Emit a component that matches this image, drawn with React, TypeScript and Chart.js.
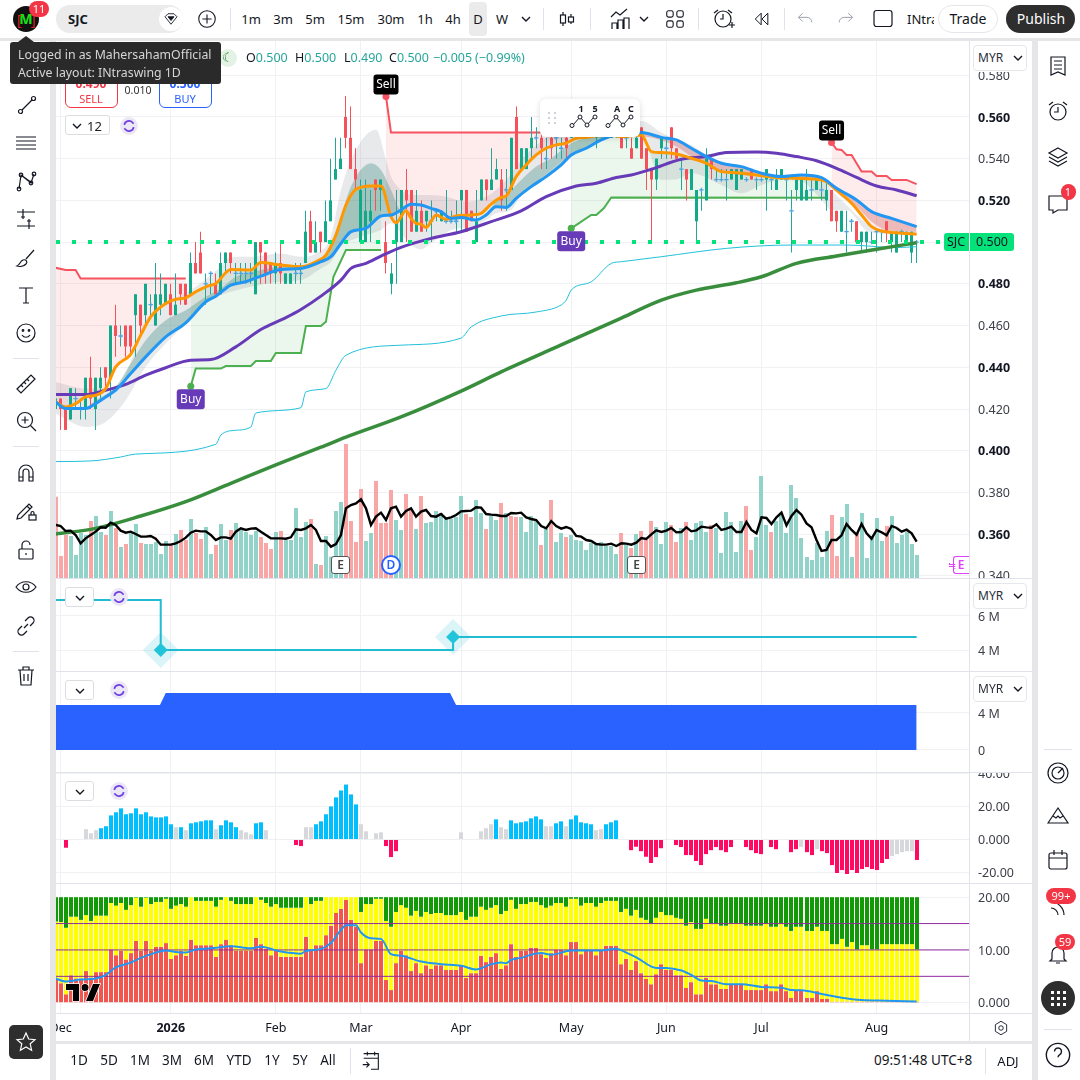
import React, { useEffect, useRef } from "react";
import { Chart, registerables } from "chart.js";

Chart.register(...registerables);

const FONT = '"Noto Sans", "Open Sans", sans-serif';

// ---- candles (price, one entry per session) ----
const candleOpen = [.42,.425,.42,.415,.425,.42,.42,.435,.42,.43,.44,.435,.46,.455,.46,.46,.465,.47,.465,.47,.46,.47,.47,.475,.465,.48,.48,.475,.49,.495,.48,.485,.48,.475,.49,.495,.485,.485,.485,.485,.475,.5,.495,.49,.485,.49,.48,.48,.485,.485,.49,.51,.495,.505,.5,.51,.53,.535,.56,.55,.535,.5,.5,.51,.53,.525,.5,.48,.5,.5,.525,.525,.505,.515,.51,.51,.515,.51,.51,.51,.51,.52,.525,.515,.5,.52,.53,.525,.53,.53,.525,.525,.56,.535,.535,.545,.55,.55,.54,.55,.55,.545,.55,.55,.555,.55,.555,.555,.55,.555,.555,.55,.555,.555,.55,.545,.545,.555,.545,.535,.53,.545,.545,.555,.545,.535,.535,.525,.51,.525,.52,.54,.53,.53,.53,.53,.525,.53,.53,.535,.53,.53,.53,.53,.525,.53,.53,.515,.525,.52,.52,.525,.525,.525,.52,.525,.515,.505,.505,.51,.51,.5,.5,.5,.505,.505,.51,.5,.495,.505,.5,.495,.5];
const candleHigh = [.43,.425,.42,.43,.43,.425,.435,.445,.435,.44,.44,.46,.47,.46,.46,.46,.475,.47,.48,.475,.49,.485,.48,.48,.485,.48,.48,.495,.5,.505,.485,.485,.485,.495,.495,.495,.49,.49,.49,.49,.5,.5,.495,.49,.495,.5,.485,.485,.49,.49,.515,.515,.51,.505,.52,.54,.55,.55,.57,.565,.545,.53,.53,.525,.53,.53,.51,.49,.525,.525,.535,.525,.525,.52,.515,.52,.515,.515,.525,.515,.52,.525,.525,.515,.525,.53,.53,.545,.54,.535,.535,.55,.565,.545,.545,.56,.555,.555,.55,.555,.555,.55,.555,.56,.56,.56,.56,.56,.56,.56,.56,.56,.56,.56,.555,.55,.555,.555,.545,.535,.54,.55,.55,.555,.545,.54,.535,.535,.525,.525,.545,.54,.535,.535,.535,.535,.535,.535,.53,.535,.53,.53,.535,.53,.535,.535,.53,.525,.53,.53,.535,.53,.53,.53,.53,.525,.515,.515,.515,.51,.51,.505,.505,.505,.505,.505,.51,.505,.505,.505,.505,.505,.5];
const candleLow = [.415,.41,.41,.415,.42,.415,.415,.42,.41,.425,.43,.425,.445,.45,.445,.445,.445,.455,.46,.465,.46,.465,.47,.465,.465,.47,.47,.475,.485,.485,.47,.475,.475,.475,.485,.485,.48,.48,.48,.48,.475,.48,.48,.48,.48,.48,.48,.48,.48,.48,.49,.495,.495,.495,.5,.51,.53,.535,.545,.535,.525,.5,.5,.5,.515,.515,.485,.475,.48,.5,.5,.505,.505,.505,.505,.5,.51,.51,.51,.51,.505,.505,.505,.51,.5,.52,.52,.525,.53,.515,.515,.525,.535,.535,.535,.54,.545,.535,.535,.54,.54,.54,.54,.55,.55,.55,.55,.55,.545,.55,.55,.55,.55,.545,.545,.54,.545,.54,.525,.5,.525,.54,.54,.54,.54,.525,.52,.525,.5,.515,.52,.53,.53,.53,.52,.53,.525,.53,.53,.53,.525,.53,.515,.525,.525,.53,.52,.495,.52,.52,.52,.52,.525,.52,.515,.51,.505,.505,.495,.505,.5,.495,.495,.5,.495,.5,.5,.495,.495,.5,.5,.49,.49];
const candleClose = [.425,.42,.41,.43,.425,.42,.435,.425,.435,.435,.435,.46,.455,.455,.45,.45,.475,.46,.48,.47,.475,.475,.48,.465,.47,.475,.47,.49,.485,.485,.48,.485,.475,.49,.495,.49,.485,.485,.485,.485,.5,.495,.485,.485,.49,.485,.485,.485,.485,.485,.505,.495,.5,.5,.51,.52,.535,.54,.55,.535,.53,.525,.515,.515,.525,.53,.49,.485,.51,.525,.52,.505,.515,.505,.515,.51,.515,.515,.51,.51,.51,.525,.505,.51,.51,.53,.525,.53,.535,.52,.525,.55,.535,.545,.545,.55,.55,.545,.54,.545,.55,.545,.545,.555,.555,.555,.55,.555,.555,.555,.55,.555,.555,.545,.55,.54,.55,.54,.535,.53,.54,.55,.545,.545,.54,.535,.53,.535,.525,.525,.54,.535,.53,.53,.53,.535,.535,.535,.53,.53,.53,.53,.535,.53,.53,.535,.53,.515,.53,.53,.525,.525,.53,.525,.525,.51,.51,.515,.505,.51,.5,.505,.505,.5,.505,.505,.505,.505,.505,.505,.505,.505,.5];

// ---- volume + its smoothed overlay (lots) ----
const volumeLots = [244,66,129,126,69,135,129,171,186,138,129,201,150,93,102,138,162,105,102,102,108,72,111,99,132,144,114,177,135,117,153,72,99,162,114,144,165,144,138,129,141,123,105,87,138,141,114,114,210,123,168,177,42,39,126,64,201,228,402,171,108,267,111,135,291,165,165,264,174,144,252,204,147,246,165,168,201,195,180,177,183,246,192,183,234,195,147,186,174,225,195,186,183,183,138,186,174,99,147,234,108,135,123,129,114,111,84,105,102,108,96,96,72,135,99,90,132,141,114,171,153,102,168,159,108,150,168,114,165,171,138,159,150,75,198,168,78,171,216,84,123,306,159,138,171,192,135,279,240,120,63,54,105,63,141,189,66,183,222,63,135,195,60,126,180,111,156,186,105,129,138,102,69];
const volumeDownBars = [0,1,2,7,10,12,14,17,23,25,26,28,29,32,35,41,42,43,45,51,53,58,59,60,61,64,65,66,67,70,71,73,82,83,86,89,91,92,97,99,102,113,115,117,118,119,123,124,126,131,138,139,143,155,156,160,166];
const overlayLine = [159,156,141,142,129,104,119,129,139,152,151,166,159,142,136,139,132,124,124,126,118,100,100,100,104,111,121,136,142,140,140,129,114,122,122,118,139,149,144,148,149,139,129,119,119,119,118,122,146,144,149,159,144,111,111,94,102,129,209,219,224,236,209,159,184,196,174,209,214,184,201,209,184,199,204,186,184,192,178,182,189,200,201,202,212,211,192,190,189,186,186,195,194,196,182,177,174,156,149,171,156,148,153,147,126,124,114,111,102,100,100,103,96,104,103,100,106,120,117,131,143,138,142,150,137,138,152,140,143,154,152,151,161,144,148,154,138,138,168,144,134,182,180,162,182,196,158,186,204,190,164,152,114,81,84,114,114,128,162,144,130,162,134,118,144,137,128,156,150,139,145,134,109];

// ---- moving averages: sampled sessions and prices ----
const orangeBars = [0,2,4,6,8,10,12,15,17,19,22,24,26,28,30,32,35,39,41,45,49,52,54,56,58,60,63,65,67,68,70,71,72,73,74,75,76,78,80,83,85,87,89,90,92,94,96,98,100,102,104,106,110,113,117,119,121,124,127,130,133,136,140,144,148,152,154,156,159,161,163,165,168,172];
const orangePrice = [.4234,.421,.4226,.4258,.4266,.4298,.4402,.4462,.4554,.4642,.4706,.4726,.4733,.4762,.4786,.4802,.4869,.4866,.4902,.489,.4882,.4906,.4938,.5034,.5178,.5253,.5269,.5269,.5122,.5093,.515,.5114,.509,.5086,.507,.5098,.513,.5109,.5125,.513,.5138,.5182,.5214,.5221,.5314,.537,.5418,.545,.5466,.5474,.5498,.5502,.5515,.5506,.5514,.5434,.5429,.5422,.5402,.5378,.5338,.5333,.5322,.531,.5306,.5301,.529,.525,.5186,.513,.5074,.5053,.5045,.5038];
const blueBars = [0,2,6,8,10,12,15,18,22,26,30,32,35,38,41,45,49,53,55,57,59,62,65,67,69,71,73,75,77,79,81,84,86,88,90,92,95,98,101,103,106,109,112,117,121,124,127,130,133,137,141,145,149,153,156,160,163,167,172];
const bluePrice = [.4234,.4202,.4202,.4226,.4258,.429,.437,.445,.4546,.4613,.4714,.4741,.4794,.481,.4837,.4869,.4874,.4906,.493,.4994,.505,.5066,.5125,.513,.5154,.5182,.5178,.5162,.5146,.5114,.5118,.5106,.513,.517,.5166,.521,.5266,.5314,.537,.5418,.545,.549,.5514,.5525,.5502,.549,.545,.541,.5378,.5362,.533,.5314,.5322,.5309,.5258,.5202,.5146,.5114,.5074];
const purpleBars = [0,6,10,14,18,22,27,31,36,41,46,49,53,57,59,62,65,69,75,81,87,93,98,104,108,112,115,119,125,130,134,140,144,148,152,156,160,164,168,172];
const purplePrice = [.4269,.4269,.429,.4318,.4362,.4398,.4434,.4437,.4498,.4581,.4638,.4677,.4741,.4818,.4874,.4898,.4933,.4975,.5018,.505,.5098,.515,.5218,.5269,.5282,.531,.5322,.5349,.5397,.541,.5429,.5432,.5426,.541,.539,.5354,.531,.5269,.525,.5222];
const longMaBars = [0,8,17,26,35,44,53,58,69,81,89,101,113,121,128,136,141,148,156,164,172];
const longMaPrice = [.3601,.3628,.3687,.3756,.3844,.3932,.4017,.4065,.4162,.4286,.4378,.4507,.4636,.4722,.477,.4805,.4834,.4898,.4933,.4966,.4997];
const channelBars = [0,7,13,16,32,33,36,39,40,49,50,54,56,58,69,81,83,89,96,101,102,103,107,111,113,121,134,147,158,168,172];
const channelPrice = [.3948,.3951,.397,.3984,.4031,.4075,.4098,.4114,.4181,.4206,.4282,.4298,.4386,.4458,.4506,.454,.4593,.4646,.4665,.4699,.4722,.477,.481,.4898,.4906,.493,.497,.4986,.4986,.4974,.4978];

// ---- cloud bands ----
const cloudTopBars = [0,6,11,14,18,22,27,33,35,39,45,49,52,55,57,60,64,66,67,69,71,75,78,82,86,88,90,93,97,101,113,117,121,124,127,130,133,137,141,145,149,153,155,158,162,166,172];
const cloudTopPrice = [.433,.4298,.4298,.437,.4626,.4706,.477,.4882,.493,.493,.4946,.493,.4946,.5026,.525,.5442,.5538,.5394,.5314,.525,.5226,.5226,.5218,.5194,.5218,.525,.5298,.5394,.5482,.5538,.558,.558,.5525,.549,.5466,.5418,.5386,.5362,.533,.5317,.5322,.5306,.525,.5178,.509,.505,.505];
const cloudLowBars = [0,6,10,14,18,22,26,30,33,39,45,49,53,55,57,61,65,67,69,71,73,75,79,83,86,88,91,93,95,99,103,106,109,113,117,121,124,127,133,137,141,145,149,153,155,158,162,166,172];
const cloudLowPrice = [.4178,.4114,.4138,.4242,.4402,.4514,.461,.4714,.4746,.4786,.481,.4818,.4874,.4906,.4978,.5026,.5058,.509,.5042,.4986,.4965,.4994,.5058,.5074,.5106,.5138,.5154,.5226,.5266,.5346,.5418,.545,.549,.5506,.5514,.5298,.53,.533,.5274,.5234,.5274,.5298,.529,.5202,.5154,.5154,.5055,.504,.5035];
const innerBars = [6,8,12,15,18,22,26,30,33,36,41,45,49,53,55,57,59,63,65,67,69,71,73,75,77,79,81,84,86,88,90,93,96,99,103,106,112,117,124,127,130,133,137,141,145,149,153,155,157,160,163,166,172];
const innerPrice = [.4202,.4242,.4306,.4418,.453,.4626,.4674,.4738,.4778,.4834,.4866,.4882,.4882,.4914,.4994,.5122,.5266,.5378,.5346,.525,.5154,.5182,.5178,.5162,.5146,.5114,.5118,.5106,.513,.5196,.5226,.5298,.5362,.5402,.5474,.5498,.5506,.5506,.5458,.541,.537,.5338,.5322,.5315,.5306,.5306,.5298,.5258,.5218,.517,.5098,.5058,.505];

// ---- trend-stop segments ----
const sellStopABars = [0,2,4,5,26];
const sellStopAPrice = [.4877,.4866,.4866,.4826,.4826];
const sellStopBBars = [66,67,102];
const sellStopBPrice = [.5698,.5525,.5525];
const sellStopCBars = [155,156,157,158,159,161,163,164,166,167,170,172];
const sellStopCPrice = [.5477,.5445,.5442,.5418,.5418,.5338,.5338,.5317,.5317,.5298,.5298,.5278];
const buyStopABars = [27,28,33,34,39,40,43,44,49,50,53,54,55.5,58,65];
const buyStopAPrice = [.4309,.4394,.4394,.4406,.4406,.443,.443,.4469,.4469,.4598,.4598,.4618,.4834,.4962,.4962];
const buyStopBBars = [103,107,108,109.5,111,154];
const buyStopBPrice = [.5066,.513,.513,.5162,.5214,.5213];
const signalBars = [27,66,103,155];
const signalPrices = [.4309,.5698,.5066,.5477];
const signalTexts = ["Buy","Sell","Buy","Sell"];
const lastPrice = 0.5;

// ---- pane 2: stepped level with two pivots (millions) ----
const levelBars = [0,21,21,79.4,79.4,172];
const levelValues = [6.94,6.94,4,4,4.76,4.76];
const pivotBars = [21,79.4];
const pivotValues = [4,4.76];

// ---- pane 3: filled area (millions) ----
const areaBars = [0,20.85,22,78.8,80,172];
const areaValues = [4.86,4.86,6.16,6.16,4.86,4.86];

// ---- pane 4: oscillator ----
const oscValues = [null,null,-5,null,null,null,6.3,3.8,5.7,6.9,8.1,14.7,16.6,19,15.4,16,19,15.4,16.6,14.1,13.5,13.5,14.1,9.3,7.5,7.5,5.7,9.9,10.5,11.1,11.7,11.7,6.3,8.7,11.7,10.5,7.5,5.7,4.4,3.2,9.9,10.5,5.7,null,null,null,null,null,-3.4,-4,7.5,7.5,9.3,11.1,15.4,20.2,25.7,29.9,33.5,27.5,21.4,9.3,5,null,3.8,4.4,-4,-10.7,-7.1,null,null,null,null,null,null,null,null,null,null,null,null,4.4,null,null,null,5,6.9,9.3,12.3,7.5,6.3,11.7,9.9,10.5,11.1,12.9,14.1,12.3,8.1,8.1,9.9,11.1,8.1,12.3,14.7,10.5,9.9,9.3,5.7,6.3,9.3,10.5,11.7,null,null,-6.5,-4.4,-7.1,-10.5,-14.3,-10.7,-5.3,null,null,-3.4,-4.6,-9.5,-9.5,-13.1,-15.6,-8.9,-6.5,-4.6,-6.5,-7.7,-4.6,null,null,-4.6,-6.5,-8.3,-8.9,null,-4.6,-5.9,null,null,-7.7,-5.9,-4.6,-7.7,-9.5,-5.9,-7.1,-8.3,-15.6,-20.4,-18.6,-21,-18.6,-20.4,-18,-16.8,-18,-18.6,-14.3,-11.9,-10.1,-8.9,-7.7,-7.1,-7.1,-12.5];
const oscMutedBars = [6,7,8,24,26,32,37,38,39,42,50,51,61,62,64,65,81,85,86,87,89,90,98,99,102,108,109,149,152,167,168,169,170,171];

// ---- pane 5: stacked zones and its line ----
const zoneRed = [4.6,3.7,1.6,5.2,4.6,4.6,6,4.8,5.8,5.8,5.8,10.1,9,9.8,8.2,9.4,11.7,9.8,11.7,9.8,10.6,10.6,11.3,8.3,9,9.8,8.9,11.9,10.9,10.9,10.9,10.9,8.7,11.1,11.9,10.9,9.8,9.8,9.8,9.8,12.3,11.1,10.2,9,9.8,8.7,8.7,8.7,8.7,8.7,12.5,9.8,10.9,10.9,12.8,14.6,17,17.8,19.5,15.7,14.4,7.5,10.1,10.1,11.7,11.7,4.3,2.4,7.5,9.8,9,6,7.5,5.6,7.1,6.4,7.1,7.1,6.2,6.2,6.2,7.1,4.7,5.6,5.6,8.9,7.7,8.7,9.4,6.4,7.1,11.1,8.7,9.8,9.8,10.4,10.4,9.2,8.5,9.4,10,10,9,11.5,11.5,9.2,9.8,9.8,9,10,10.8,10.8,10.8,7.3,8.3,6.2,7.9,5.6,4.5,3.5,5.4,7.3,6.2,6.2,5.2,5.2,2.8,3.9,1.6,1.6,4.7,3.5,3.5,2.6,2.6,3.4,3.4,3.4,2.4,2.4,2.4,2.4,3.5,2.2,2.2,3.5,2.2,.9,2.4,2.4,.9,.9,2.2,.7,.7,.2,.2,.2,.2,.2,.2,.2,.2,.2,.2,.2,.2,.2,.2,.2,.2,.2,.2];
const zoneGreenBase = [15.4,15.3,14.2,16.3,16.3,15.7,16.6,15.5,16.5,16.5,16.5,18.9,18.4,18.9,17.6,18.5,19.9,18.2,19.9,18.7,19.1,19.1,19.7,17.8,18.4,18.7,18.2,20,19.3,19.3,19.3,19.3,18.2,19.5,20,19.3,18.7,18.7,18.7,18.7,20,19.5,18.9,18.2,18.7,18,18,18,18,18,20,18.7,19.3,19.3,20,20,20,20,20,20,20,17.2,18.7,18.7,19.7,19.7,15.5,14.4,17.2,18.5,18,16.5,17.4,16.3,17.2,16.8,17,17,16.6,16.6,16.6,17.2,15.7,16.3,16.3,18.2,17.6,18,18.5,16.8,17.4,19.5,17.8,18.7,18.7,19.1,19.1,18.5,18,18.4,18.9,18.9,18.2,19.7,19.7,18.4,18.9,18.9,18.2,18.9,19.3,19.3,19.3,17.2,17.8,16.5,17.6,16.1,15.7,15.1,16.1,17.2,16.6,16.6,16.1,15.9,14.6,15.3,14,14,15.9,15.1,15.1,14.6,14.6,15.1,15.1,15.1,14.6,14.6,14.6,14.6,15.1,14.4,14.4,15.1,14.4,13.6,14.4,14.4,13.6,13.6,14.4,13.6,13.6,11.1,11.1,12.1,10.6,11.5,10.1,10.9,10.9,10.1,10.1,11.1,11.1,11.1,11.1,11.1,11.1,11.1,10.1];
const zoneTop = 20;
const zoneLineBars = [0,2,5,8,10,12,15,17,19,22,24,26,28,31,35,39,41,45,49,50,53,55,57,58,60,61,63,65,67,69,73,77,81,84,87,89,90,91,93,95,97,99,103,109,112,114,116,120,122,125,127,129,131,134,137,141,145,147,149,153,157,161,166,172];
const zoneLineValues = [4.6,4,4.4,4.6,5.25,6.7,7.6,8.5,9.2,9.9,9.6,9.5,10.1,10.3,10.7,10.3,10.6,9.7,9.3,9.8,10.2,11.3,13.8,14.7,14.7,13.3,12.2,12.1,9.2,8.9,7.8,7.3,7,6.3,7.3,7.6,7.5,8.1,8.5,9.1,9.4,9.1,9.9,9.9,10.25,9.5,8.6,6.6,6.6,6.1,5.25,4.2,4.1,3.5,3.5,3,2.85,2.4,2.35,1.65,.95,.5,.38,.25];
const zoneGuides = [15,10,5];

// ---- axes ----
const monthBars = [1,23,44,61,81,103,122,141,164];
const monthLabels = ["Dec","2026","Feb","Mar","Apr","May","Jun","Jul","Aug"];
const priceTicks = [.58,.56,.54,.52,.5,.48,.46,.44,.42,.4,.38,.36,.34];
const priceBoldTicks = ["0.560","0.520","0.480","0.440","0.400","0.360"];
const levelTicks = [6,4];
const areaTicks = [4,0];
const oscTicks = [40,20,0,-20];
const zoneTicks = [20,10,0];

const GRID = "#f0f1f4";
const xMin = 0.08;
const xMax = 182.66;
const xy = (xs: number[], ys: (number | null)[]) => xs.map((x, k) => ({ x, y: ys[k] }));
const seq = (a: any[]) => a.map((_, i) => i);
const allBars = seq(candleOpen);

function buildDatasets() {
  const ds: any[] = [];
  const add = (d: any) => { ds.push(d); return ds.length - 1; };
  const bar = (data: any[], color: any, thick: number, yAxisID: string, order: number) =>
    add({ type: "bar", data, backgroundColor: color, barThickness: thick, grouped: false, borderWidth: 0, borderSkipped: false, inflateAmount: 0, yAxisID, order });
  const line = (xs: number[], ys: number[], color: string, width: number, order: number, extra: any = {}) =>
    add({ type: "line", data: xy(xs, ys), borderColor: color, borderWidth: width, pointRadius: 0, cubicInterpolationMode: "monotone", yAxisID: "y", order, fill: false, ...extra });

  // volume pane overlay
  bar(xy(allBars, volumeLots), allBars.map((i) => (volumeDownBars.includes(i) ? "#f8a6a6" : "#91d2c9")), 4, "yVol", 100);

  // cloud
  const cloudLow = line(cloudLowBars, cloudLowPrice, "transparent", 0, 95);
  line(cloudTopBars, cloudTopPrice, "transparent", 0, 80, { fill: { target: cloudLow, above: "rgba(120,123,134,0.17)", below: "rgba(120,123,134,0.17)" } });

  // orange hidden reference for stop fills is added first so fills can aim at it
  const orangeRef = line(orangeBars, orangePrice, "transparent", 0, 96);
  const pink = "rgba(242,54,69,0.10)";
  const pale = "rgba(76,175,80,0.11)";
  const stopFill = (c: string) => ({ fill: { target: orangeRef, above: c, below: c }, cubicInterpolationMode: "default", tension: 0 });
  const dot = (c: string) => ({ pointRadius: (p: any) => (p.dataIndex === 0 ? 3.5 : 0), pointBackgroundColor: c, pointBorderWidth: 0 });
  line(sellStopABars, sellStopAPrice, "#f7525f", 2, 90, stopFill(pink));
  line(sellStopBBars, sellStopBPrice, "#f7525f", 2, 90, { ...stopFill(pink), ...dot("#f7525f") });
  line(sellStopCBars, sellStopCPrice, "#f7525f", 2, 90, { ...stopFill(pink), ...dot("#f7525f") });
  line(buyStopABars, buyStopAPrice, "#4caf50", 2, 90, { ...stopFill(pale), ...dot("#4caf50") });
  line(buyStopBBars, buyStopBPrice, "#4caf50", 2, 90, { ...stopFill(pale), ...dot("#4caf50") });

  // inner band against the blue line
  const blueRef = line(blueBars, bluePrice, "transparent", 0, 97);
  line(innerBars, innerPrice, "transparent", 0, 75, { fill: { target: blueRef, above: "rgba(40,130,115,0.30)", below: "rgba(200,70,70,0.30)" } });

  // candles
  const isUp = (i: number) => candleClose[i] >= candleOpen[i];
  const bull = "#12a98a";
  const bear = "#f4515b";
  bar(allBars.map((i) => ({ x: i, y: [candleLow[i], candleHigh[i]] })), allBars.map((i) => (isUp(i) ? "#26a69a" : bear)), 1, "y", 60);
  bar(allBars.map((i) => ({ x: i, y: [candleOpen[i], candleClose[i]] })), allBars.map((i) => (isUp(i) ? bull : bear)), 3, "y", 59);
  const dojiBars = allBars.filter((i) => candleOpen[i] === candleClose[i]);
  add({ type: "line", showLine: false, data: dojiBars.map((i) => ({ x: i, y: candleClose[i] })), pointStyle: "cross", pointRadius: 2.2, pointBorderWidth: 1.3, pointBorderColor: "#4aa6dc", yAxisID: "y", order: 58 });

  // averages
  line(channelBars, channelPrice, "#22c1da", 1, 56);
  line(longMaBars, longMaPrice, "#388e3c", 3.5, 50);
  line(purpleBars, purplePrice, "#673ab7", 3, 49);
  line(orangeBars, orangePrice, "#ff9800", 3, 48);
  line(blueBars, bluePrice, "#2196f3", 3, 47);
  add({ type: "line", data: [{ x: xMin, y: lastPrice }, { x: xMax, y: lastPrice }], borderColor: "#05e27a", borderWidth: 4, borderDash: [4, 12], borderCapStyle: "butt", pointRadius: 0, yAxisID: "y", order: 40 });

  // overlay line
  add({ type: "line", data: xy(allBars, overlayLine), borderColor: "#000000", borderWidth: 2.4, pointRadius: 0, tension: 0, yAxisID: "yVol", order: 30 });

  // pane 2
  add({ type: "line", data: xy(levelBars, levelValues), borderColor: "#22bcd2", borderWidth: 2, pointRadius: 0, tension: 0, yAxisID: "p2", order: 20 });
  add({ type: "line", showLine: false, data: xy(pivotBars, pivotValues), pointStyle: "rectRot", pointRadius: 18, pointBorderWidth: 0, pointBackgroundColor: "rgba(34,188,210,0.16)", yAxisID: "p2", order: 21 });
  add({ type: "line", showLine: false, data: xy(pivotBars, pivotValues), pointStyle: "rectRot", pointRadius: 7, pointBorderWidth: 0, pointBackgroundColor: "#22c4da", yAxisID: "p2", order: 19 });

  // pane 3
  add({ type: "line", data: xy(areaBars, areaValues), borderColor: "#2962ff", borderWidth: 0, backgroundColor: "#2962ff", pointRadius: 0, tension: 0, fill: "origin", yAxisID: "p3", order: 20 });

  // pane 4
  const muted = "#d7d8dc";
  bar(xy(allBars, oscValues), allBars.map((i) => {
    if (oscMutedBars.includes(i)) return muted;
    return (oscValues[i] ?? 0) < 0 ? "#ff0a63" : "#00bfff";
  }), 4, "p4", 20);
  add({ type: "line", data: [{ x: xMin, y: 0 }, { x: xMax, y: 0 }], borderColor: "#eceef2", borderWidth: 1, borderDash: [4, 3], pointRadius: 0, yAxisID: "p4", order: 10 });

  // pane 5
  bar(allBars.map((i) => ({ x: i, y: [0, zoneRed[i]] })), "#f1574f", 4, "p5", 23);
  bar(allBars.map((i) => ({ x: i, y: [zoneRed[i], zoneGreenBase[i]] })), "#ffff00", 4, "p5", 22);
  bar(allBars.map((i) => ({ x: i, y: [zoneGreenBase[i], zoneTop] })), "#119a06", 4, "p5", 21);
  zoneGuides.forEach((v) => add({ type: "line", data: [{ x: xMin, y: v }, { x: xMax, y: v }], borderColor: "#8e2a9e", borderWidth: 1, pointRadius: 0, yAxisID: "p5", order: 12 }));
  add({ type: "line", data: xy(zoneLineBars, zoneLineValues), borderColor: "#2196f3", borderWidth: 2, pointRadius: 0, cubicInterpolationMode: "monotone", yAxisID: "p5", order: 11 });
  return ds;
}

const snapPlugin = {
  id: "snap",
  afterDatasetsUpdate(chart: any) {
    chart.getSortedVisibleDatasetMetas().forEach((meta: any) => {
      if (meta.type !== "bar") return;
      const thick = chart.data.datasets[meta.index].barThickness;
      meta.data.forEach((el: any) => {
        el.x = thick % 2 ? Math.floor(el.x) + 0.5 : Math.round(el.x);
      });
    });
  },
};

const panesPlugin = {
  id: "panes",
  afterDatasetsDraw(chart: any) {
    const { ctx, scales } = chart;
    ctx.save();
    ctx.font = `12px ${FONT}`;
    ctx.textAlign = "center";
    ctx.textBaseline = "middle";
    signalBars.forEach((b, k) => {
      const px = scales.x.getPixelForValue(b);
      const py = scales.y.getPixelForValue(signalPrices[k]);
      const isBuy = signalTexts[k] === "Buy";
      const w = isBuy ? 28 : 25;
      const h = 20;
      const top = isBuy ? py + 3 : py - 22;
      ctx.fillStyle = isBuy ? "#673ab7" : "#000000";
      ctx.beginPath();
      ctx.roundRect(px - w / 2, top, w, h, 3);
      ctx.fill();
      ctx.fillStyle = "#ffffff";
      ctx.fillText(signalTexts[k], px, top + h / 2);
    });
    ctx.restore();
  },
  afterDraw(chart: any) {
    const { ctx, scales } = chart;
    ctx.save();
    // labels of neighbouring panes do not bleed over a separator
    ctx.fillStyle = "#ffffff";
    ctx.fillRect(971, scales.y.bottom, 61, 7);
    ctx.fillRect(971, scales.p4.top - 7, 61, 7);
    ctx.strokeStyle = "#e0e3eb";
    ctx.lineWidth = 1;
    ["y", "p2", "p3", "p4", "p5"].forEach((id) => {
      const y = Math.round(scales[id].bottom) + 0.5;
      ctx.beginPath();
      ctx.moveTo(56, y);
      ctx.lineTo(1033, y);
      ctx.stroke();
    });
    ctx.beginPath();
    ctx.moveTo(969.5, chart.chartArea.top);
    ctx.lineTo(969.5, scales.x.bottom);
    ctx.stroke();
    ctx.restore();
  },
};

const priceAxis = (id: string, ticks: number[], label: (v: number) => string, weightRow: number, min: number, max: number, stackWeight: number, bold?: (s: string) => boolean) => {
  const isBold = (c: any) => !!(bold && c.tick && bold(label(c.tick.value)));
  return {
    [id]: {
      axis: "y", type: "linear", position: "right", stack: "panes", stackWeight, weight: weightRow, min, max,
      afterFit: (s: any) => { s.width = 62; },
      afterBuildTicks: (s: any) => { s.ticks = ticks.map((value) => ({ value })); },
      grid: { color: GRID, drawTicks: false, lineWidth: 1 },
      border: { display: false },
      ticks: {
        padding: 8,
        labelOffset: 1,
        color: (c: any) => (isBold(c) ? "#131722" : "#3c3f47"),
        font: (c: any) => ({ family: FONT, size: 12.5, weight: isBold(c) ? "700" : "400" }),
        callback: (v: number) => label(v),
        autoSkip: false,
      },
    },
  };
};

const T = ({ x, y, s = 13, c = "#131722", w = 400, a = "left", children, style }: any) => (
  <div style={{ position: "absolute", left: x, top: y, fontFamily: FONT, fontSize: s, color: c, fontWeight: w, whiteSpace: "nowrap", lineHeight: 1, transform: `translate(${a === "center" ? "-50%" : a === "right" ? "-100%" : "0"},-50%)`, ...style }}>{children}</div>
);
const Box = ({ x, y, w, h, bg = "#fff", style }: any) => (
  <div style={{ position: "absolute", left: x, top: y, width: w, height: h, background: bg, ...style }} />
);
const Ic = ({ x, y, size = 24, children, stroke = "#131722", sw = 1.2 }: any) => (
  <svg width={size} height={size} viewBox="0 0 24 24" fill="none" stroke={stroke} strokeWidth={sw} style={{ position: "absolute", left: x - size / 2, top: y - size / 2 }}>{children}</svg>
);
const Chev = ({ x, y, c = "#131722" }: any) => (
  <svg width="10" height="6" viewBox="0 0 10 6" fill="none" stroke={c} strokeWidth="1.4" style={{ position: "absolute", left: x - 5, top: y - 3 }}><path d="M1 1l4 4 4-4" /></svg>
);
const Sync = ({ x, y }: any) => (
  <>
    <div style={{ position: "absolute", left: x - 9, top: y - 9, width: 18, height: 18, borderRadius: 9, background: "#ece7f7" }} />
    <Ic x={x} y={y} size={14} stroke="#6c3fe0" sw={3}><path d="M4 10a8 8 0 0 1 14-4l2 2M20 14a8 8 0 0 1-14 4l-2-2" /></Ic>
  </>
);
const Chip = ({ x, y, w = 29, children }: any) => (
  <div style={{ position: "absolute", left: x, top: y, width: w, height: 20, border: "1px solid #dcdde0", borderRadius: 3, background: "#fff", boxSizing: "border-box" }}>{children}</div>
);
const Myr = ({ y }: any) => (
  <>
    <Box x={971} y={y - 3} w={60} h={y === 45 ? 30 : 29} />
    <div style={{ position: "absolute", left: 973, top: y, width: 54, height: 26, border: "1px solid #e6e7ea", borderRadius: 4, boxSizing: "border-box", background: "#fff" }} />
    <T x={978} y={y + 13} s={12} c="#2a2e39">MYR</T>
    <Chev x={1018} y={y + 13} />
  </>
);
const Badge = ({ x, y, t, w = 17 }: any) => (
  <div style={{ position: "absolute", left: x - w / 2, top: y - 8, width: w, height: 16, background: "#f23645", color: "#fff", borderRadius: 8, fontFamily: FONT, fontSize: 11, lineHeight: "16px", textAlign: "center" }}>{t}</div>
);
const Wave = ({ x, a, b }: any) => (
  <>
    <T x={x + 11} y={108} s={9} w={700} a="center">{a}</T>
    <T x={x + 25} y={108} s={9} w={700} a="center">{b}</T>
    <svg width="36" height="16" viewBox="0 0 36 16" fill="none" stroke="#131722" strokeWidth="1" style={{ position: "absolute", left: x - 2, top: 113 }}>
      <path d="M5 12l7-8 7 8 7-8" /><circle cx="4" cy="12.5" r="2" fill="#fff" /><circle cx="12" cy="4" r="2" fill="#fff" /><circle cx="19" cy="12" r="2" fill="#fff" /><circle cx="27" cy="4" r="2" fill="#fff" />
    </svg>
  </>
);

const topFrames = [["1m",251],["3m",283],["5m",315],["15m",351],["30m",391],["1h",425],["4h",453],["D",478],["W",502]] as [string, number][];
const bottomRanges = [["1D",79],["5D",109],["1M",140],["3M",172],["6M",204],["YTD",239],["1Y",272],["5Y",300],["All",328]] as [string, number][];
const legendParts = [["O",246,"0.500"],["H",295,"0.500"],["L",344,"0.490"],["C",389,"0.500"]] as [string, number, string][];

export default function App() {
  const ref = useRef<HTMLCanvasElement | null>(null);
  useEffect(() => {
    if (!ref.current) return;
    const chart = new Chart(ref.current, {
      type: "bar",
      data: { datasets: buildDatasets() },
      plugins: [snapPlugin, panesPlugin],
      options: {
        animation: false,
        responsive: false,
        maintainAspectRatio: false,
        events: [],
        layout: { padding: { left: 56, top: 41, right: 48, bottom: 39 } },
        plugins: { legend: { display: false }, tooltip: { enabled: false } },
        scales: {
          x: {
            type: "linear", position: "bottom", min: xMin, max: xMax, offset: false,
            afterFit: (s: any) => { s.height = 28; },
            afterBuildTicks: (s: any) => { s.ticks = monthBars.map((value) => ({ value })); },
            grid: { color: GRID, offset: false, drawTicks: false },
            border: { display: false },
            ticks: {
              autoSkip: false, maxRotation: 0, padding: 8,
              color: "#131722",
              font: (c: any) => ({ family: FONT, size: 12.5, weight: c.tick && c.tick.value === 23 ? "700" : "400" }),
              callback: (v: number) => monthLabels[monthBars.indexOf(v)],
            },
          },
          ...priceAxis("y", priceTicks, (v) => v.toFixed(3), 1, 0.339, 0.5964, 537, (s) => priceBoldTicks.includes(s)),
          ...priceAxis("p2", levelTicks, (v) => `${v} M`, 2, 2.765, 8.235, 93),
          ...priceAxis("p3", areaTicks, (v) => (v === 0 ? "0" : `${v} M`), 3, -2.38, 8.54, 101),
          ...priceAxis("p4", oscTicks, (v) => (v === 0 ? "0.000" : v.toFixed(2)), 4, -26.5, 41.16, 111),
          ...priceAxis("p5", zoneTicks, (v) => (v === 0 ? "0.000" : v.toFixed(2)), 5, -1.95, 22.69, 130),
          yVol: { axis: "y", type: "linear", display: false, position: "right", min: -1305, max: 1611 },
        },
      } as any,
    } as any);
    return () => chart.destroy();
  }, []);

  return (
    <div style={{ position: "fixed", left: 0, top: 0, width: 1080, height: 1080, background: "#fff", overflow: "hidden" }}>
      <canvas ref={ref} width={1080} height={1080} style={{ position: "absolute", left: 0, top: 0, width: 1080, height: 1080 }} />

      {/* frames */}
      <Box x={0} y={0} w={1080} h={38} />
      <Box x={0} y={38} w={1080} h={3} bg="#e6e6e8" />
      <Box x={0} y={41} w={50} h={1039} />
      <Box x={50} y={41} w={6} h={1039} bg="#e6e6e8" />
      <Box x={1032} y={41} w={6} h={1039} bg="#e6e6e8" />
      <Box x={1038} y={41} w={42} h={1039} />
      <Box x={56} y={1041} w={976} h={3} bg="#e6e6e8" />
      <Box x={56} y={1044} w={976} h={36} />

      {/* top bar */}
      <div style={{ position: "absolute", left: 13, top: 6, width: 26, height: 26, borderRadius: 13, background: "#111" }} />
      <T x={26} y={19} s={14} w={800} c="#16e016" a="center">M</T>
      <T x={17} y={19} s={15} c="#e02020">[</T>
      <T x={31} y={19} s={15} c="#e02020">]</T>
      <Badge x={39} y={9} t="11" w={20} />
      <div style={{ position: "absolute", left: 56, top: 5, width: 127, height: 28, borderRadius: 14, background: "#ebebeb" }} />
      <T x={68} y={19} s={13} w={700}>SJC</T>
      <div style={{ position: "absolute", left: 159, top: 7, width: 24, height: 24, borderRadius: 12, background: "#fff" }} />
      <Ic x={171} y={19} size={18}><path d="M4 9l4-4h8l4 4-8 10z" /><path d="M8 9h8l-4 5z" fill="#131722" /></Ic>
      <Ic x={207} y={19} size={22}><circle cx="12" cy="12" r="9" /><path d="M12 7v10M7 12h10" /></Ic>
      <Box x={230} y={8} w={1} h={22} bg="#e0e3eb" />
      <Box x={469} y={2} w={18} h={34} bg="#ebebeb" style={{ borderRadius: 4 }} />
      {topFrames.map(([t, x]) => <T key={t} x={x} y={19} s={13} a="center" c="#131722">{t}</T>)}
      <Chev x={526} y={19} />
      <Box x={543} y={8} w={1} h={22} bg="#e0e3eb" />
      <Ic x={567} y={19} size={24}><path d="M8 5v14M16 7v10" /><rect x="5.5" y="8" width="5" height="8" fill="#fff" /><rect x="13.5" y="10" width="5" height="5" fill="#fff" /></Ic>
      <Box x={590} y={8} w={1} h={22} bg="#e0e3eb" />
      <Ic x={620} y={19} size={24}><path d="M3 10l5-5 4 3 7-6M4 22v-6h5v6M10 22V13h5v9M16 22V11h5v11" /></Ic>
      <Chev x={644} y={19} />
      <Ic x={675} y={19} size={22}><rect x="3" y="3" width="7" height="7" rx="2" /><rect x="14" y="3" width="7" height="7" rx="2" /><rect x="3" y="14" width="7" height="7" rx="2" /><rect x="14" y="14" width="7" height="7" rx="2" /></Ic>
      <Box x={698} y={8} w={1} h={22} bg="#e0e3eb" />
      <Ic x={723} y={19} size={24}><circle cx="12" cy="12" r="8" /><path d="M12 7v5h-3M3 6l4-3M21 6l-4-3M18 18h6M21 15v6" /></Ic>
      <Ic x={762} y={19} size={20}><path d="M11 5l-7 7 7 7zM19 5l-7 7 7 7z" /></Ic>
      <Box x={784} y={8} w={1} h={22} bg="#e0e3eb" />
      <Ic x={806} y={19} size={20} stroke="#9aa0ab"><path d="M8 5L3 10l5 5M3 10h10a6 6 0 0 1 6 6" /></Ic>
      <Ic x={845} y={19} size={20} stroke="#9aa0ab"><path d="M16 5l5 5-5 5M21 10H11a6 6 0 0 0-6 6" /></Ic>
      <Ic x={883} y={19} size={24}><rect x="3" y="3.5" width="18" height="16" rx="2.5" /></Ic>
      <T x={907} y={19} s={13}>INtra</T>
      <Box x={934} y={2} w={6} h={34} />
      <div style={{ position: "absolute", left: 938, top: 5, width: 60, height: 28, borderRadius: 14, border: "1px solid #e6e7ea", background: "#fff", boxSizing: "border-box" }} />
      <T x={968} y={19} s={14} a="center">Trade</T>
      <div style={{ position: "absolute", left: 1006, top: 5, width: 69, height: 28, borderRadius: 14, background: "#2e2e2e" }} />
      <T x={1041} y={19} s={14} c="#fff" a="center">Publish</T>

      {/* legend + order panel */}
      <T x={228} y={58} s={13} a="center" c="#2e7d32" style={{ background: "#e3f2e4", borderRadius: 9, width: 18, height: 18, lineHeight: "16px", textAlign: "center" }}>☾</T>
      {legendParts.map(([k, x, v]) => (
        <T key={k} x={x} y={58} s={12.5} c="#26a69a"><span style={{ color: "#131722" }}>{k}</span>{v}</T>
      ))}
      <T x={433} y={58} s={12.5} c="#26a69a">−0.005</T>
      <T x={475} y={58} s={12.5} c="#26a69a">(−0.99%)</T>
      <div style={{ position: "absolute", left: 65, top: 76, width: 53, height: 32, border: "1px solid #f23645", borderRadius: 6, boxSizing: "border-box", background: "#fff" }} />
      <T x={91} y={84} s={12} w={700} c="#f23645" a="center">0.490</T>
      <T x={91} y={98} s={11} c="#f23645" a="center">SELL</T>
      <T x={138} y={90} s={10.5} c="#333" a="center">0.010</T>
      <div style={{ position: "absolute", left: 159, top: 76, width: 53, height: 32, border: "1px solid #2962ff", borderRadius: 6, boxSizing: "border-box", background: "#fff" }} />
      <T x={185} y={84} s={12} w={700} c="#2962ff" a="center">0.500</T>
      <T x={185} y={98} s={11} c="#2962ff" a="center">BUY</T>
      <Chip x={65} y={115} w={45}><Chev x={11} y={10} /><T x={21} y={10} s={13} c="#222">12</T></Chip>
      <Sync x={129} y={126} />
      <Chip x={65} y={587}><Chev x={14} y={10} /></Chip>
      <Sync x={119} y={597} />
      <Chip x={65} y={680}><Chev x={14} y={10} /></Chip>
      <Sync x={119} y={690} />
      <Chip x={65} y={781}><Chev x={14} y={10} /></Chip>
      <Sync x={119} y={791} />

      {/* floating drawing panel */}
      <div style={{ position: "absolute", left: 540, top: 99, width: 100, height: 38, background: "#fff", borderRadius: 6, boxShadow: "0 1px 6px rgba(0,0,0,0.14)" }} />
      <svg width="10" height="12" style={{ position: "absolute", left: 548, top: 112 }} fill="#cfd1d6">{[0, 5, 10].flatMap((y) => [0, 6].map((x) => <rect key={`${x}-${y}`} x={x} y={y} width="2" height="2" />))}</svg>
      <Wave x={570} a="1" b="5" />
      <Wave x={606} a="A" b="C" />

      {/* events */}
      <div style={{ position: "absolute", left: 331, top: 556, width: 19, height: 18, border: "1.5px solid #555", borderRadius: 3, boxSizing: "border-box", background: "#fff" }} />
      <T x={340.5} y={565} s={12} w={600} c="#444" a="center">E</T>
      <div style={{ position: "absolute", left: 627, top: 556, width: 19, height: 18, border: "1.5px solid #555", borderRadius: 3, boxSizing: "border-box", background: "#fff" }} />
      <T x={636.5} y={565} s={12} w={600} c="#444" a="center">E</T>
      <div style={{ position: "absolute", left: 381, top: 555, width: 20, height: 20, border: "2px solid #2962ff", borderRadius: 10, boxSizing: "border-box", background: "#fff" }} />
      <T x={391} y={565} s={12} w={600} c="#2962ff" a="center">D</T>
      <div style={{ position: "absolute", left: 953, top: 556, width: 16, height: 18, border: "1.5px solid #e040fb", borderRight: "none", borderRadius: "3px 0 0 3px", boxSizing: "border-box" }} />
      <T x={961} y={565} s={12} w={600} c="#e040fb" a="center">E</T>
      <T x={948} y={565} s={10} c="#e040fb">≒</T>

      {/* watermark */}
      <svg width="36" height="20" viewBox="0 0 36 20" style={{ position: "absolute", left: 65, top: 983 }}>
        <path d="M14 18H8V7H1V1h13zM28 18h-7L28 1h7zM20 1a3.5 3.5 0 1 1 0 7 3.5 3.5 0 0 1 0-7z" fill="#000" stroke="#fff" strokeWidth="1.5" paintOrder="stroke" />
      </svg>

      {/* last price tag and axis buttons */}
      <div style={{ position: "absolute", left: 944, top: 233, width: 70, height: 18, background: "#05e27a", borderRadius: 3 }} />
      <Box x={969} y={233} w={1} h={18} bg="#fff" />
      <T x={956} y={242} s={12.5} a="center">SJC</T>
      <T x={992} y={242} s={12.5} a="center">0.500</T>
      <Myr y={45} />
      <Myr y={583} />
      <Myr y={676} />
      <Ic x={1001} y={1028} size={18}><path d="M12 3l7.5 4.5v9L12 21l-7.5-4.5v-9z" /><circle cx="12" cy="12" r="3" /></Ic>

      {/* tooltip */}
      <svg width="16" height="6" style={{ position: "absolute", left: 18, top: 36 }}><path d="M0 6l8-6 8 6z" fill="#2a2a2a" /></svg>
      <div style={{ position: "absolute", left: 10, top: 42, width: 211, height: 42, borderRadius: 3, background: "#2a2a2a" }} />
      <T x={18} y={55} s={12.3} c="#d6d6d6">Logged in as MahersahamOfficial</T>
      <T x={18} y={73} s={12.3} c="#d6d6d6">Active layout: INtraswing 1D</T>

      {/* left tools */}
      <Ic x={26} y={105}><path d="M8 17L18 7" /><circle cx="6.5" cy="18.5" r="2" /><circle cx="19.5" cy="5.5" r="2" /></Ic>
      <Ic x={26} y={143}><path d="M2 6h20M2 10h20M2 14h20M2 18h20" /></Ic>
      <Ic x={26} y={181}><path d="M5 20l2-14 10 8 3-9M7 6l11 8" /><circle cx="5" cy="20" r="1.8" /><circle cx="7" cy="6" r="1.8" /><circle cx="17" cy="14" r="1.8" /><circle cx="20" cy="5" r="1.8" /></Ic>
      <Ic x={26} y={219}><path d="M3 5h18M3 19h18M9 2v10M15 12v10M7 10h4M13 14h4" /></Ic>
      <Ic x={26} y={258}><path d="M3 20c3-1 3-5 6-6s5 2 3 4-6 3-9 2zM12 13l8-9" /></Ic>
      <Ic x={26} y={295}><path d="M5 5h14M12 5v15M9 20h6" /></Ic>
      <Ic x={26} y={333}><circle cx="12" cy="12" r="9" /><path d="M8 14c2 3 6 3 8 0" /><circle cx="9" cy="9.5" r=".8" /><circle cx="15" cy="9.5" r=".8" /></Ic>
      <Box x={13} y={358} w={26} h={1} bg="#e0e3eb" />
      <Ic x={26} y={384}><path d="M3 17L17 3l4 4L7 21zM7 13l2 2M10 10l2 2M13 7l2 2" /></Ic>
      <Ic x={26} y={421}><circle cx="11" cy="11" r="7.5" /><path d="M16.5 16.5L22 22M11 7.5v7M7.5 11h7" /></Ic>
      <Box x={13} y={446} w={26} h={1} bg="#e0e3eb" />
      <Ic x={26} y={473}><path d="M5 20V11a7 7 0 0 1 14 0v9h-4v-9a3 3 0 0 0-6 0v9zM5 16h4M15 16h4" /></Ic>
      <Ic x={26} y={511}><path d="M3 20l1-4L15 5l3 3L7 19zM13 7l3 3" /><rect x="15" y="16" width="7" height="5" /><path d="M17 16v-2a1.5 1.5 0 0 1 3 0v2" /></Ic>
      <Ic x={26} y={550}><rect x="5" y="11" width="14" height="10" rx="1" /><path d="M8 11V7a4 4 0 0 1 8 0M12 15v2" /></Ic>
      <Ic x={26} y={587}><path d="M2 12c5-7 15-7 20 0-5 7-15 7-20 0z" /><circle cx="12" cy="12" r="3" /></Ic>
      <Ic x={26} y={626}><path d="M10 14l4-4M8 12l-3 3a3.5 3.5 0 0 0 5 5l3-3M16 12l3-3a3.5 3.5 0 0 0-5-5l-3 3" /></Ic>
      <Box x={13} y={651} w={26} h={1} bg="#e0e3eb" />
      <Ic x={26} y={676}><path d="M4 6h16M9 6V3h6v3M6 6l1 15h10l1-15M10 10v7M14 10v7" /></Ic>
      <div style={{ position: "absolute", left: 9, top: 1025, width: 34, height: 34, borderRadius: 5, background: "#2e2e2e" }} />
      <Ic x={26} y={1042} stroke="#fff"><path d="M12 3l2.7 6 6.3.6-4.8 4.2 1.4 6.4L12 17l-5.6 3.2 1.4-6.4L3 9.6 9.3 9z" /></Ic>

      {/* right tools */}
      <Ic x={1058} y={66}><path d="M5 3h14v18l-7-3-7 3zM8 7h8M8 11h8M8 15h8" /></Ic>
      <Ic x={1058} y={111}><circle cx="12" cy="13" r="8" /><path d="M12 8v5H8M3 6l4-3M21 6l-4-3" /></Ic>
      <Ic x={1058} y={157}><path d="M12 3l9 5-9 5-9-5zM3 12l9 5 9-5M3 16l9 5 9-5" /></Ic>
      <Ic x={1058} y={204}><path d="M3 4h18v14h-9l-5 3v-3H3z" /></Ic>
      <Badge x={1068} y={192} t="1" w={15} />
      <Box x={1044} y={749} w={28} h={1} bg="#e0e3eb" />
      <Ic x={1058} y={773}><circle cx="12" cy="12" r="10" /><circle cx="12" cy="12" r="6" /><path d="M12 12l5-5" /></Ic>
      <Ic x={1058} y={815}><path d="M2 20L12 5l10 15zM7 13l3 2 2-2 2 2 3-2" /></Ic>
      <Ic x={1058} y={860}><rect x="3" y="5" width="18" height="16" rx="2" /><path d="M3 10h18M8 2v5M16 2v5" /></Ic>
      <Ic x={1058} y={908}><path d="M5 19h.1M5 12a7 7 0 0 1 7 7M5 6a13 13 0 0 1 13 13" /></Ic>
      <Badge x={1061} y={896} t="99+" w={30} />
      <Ic x={1058} y={954}><path d="M6 17V11a6 6 0 0 1 12 0v6l2 2H4zM10 21h4" /></Ic>
      <Badge x={1065} y={942} t="59" w={20} />
      <div style={{ position: "absolute", left: 1041, top: 981, width: 34, height: 34, borderRadius: 17, background: "#2e2e2e" }} />
      <svg width="16" height="16" fill="#fff" style={{ position: "absolute", left: 1050, top: 990 }}>{[1, 7, 13].flatMap((y) => [1, 7, 13].map((x) => <rect key={`${x}-${y}`} x={x} y={y} width="3" height="3" />))}</svg>
      <Box x={1044} y={1029} w={28} h={1} bg="#e0e3eb" />
      <Ic x={1058} y={1055} size={28}><circle cx="12" cy="12" r="10" /><path d="M9 9a3 3 0 1 1 4.5 2.6c-1 .6-1.5 1.2-1.5 2.4M12 17h.1" /></Ic>

      {/* bottom bar */}
      {bottomRanges.map(([t, x]) => <T key={t} x={x} y={1061} s={13.5} a="center">{t}</T>)}
      <Box x={350} y={1048} w={1} h={26} bg="#e0e3eb" />
      <Ic x={371} y={1061} size={22}><path d="M4 4h16v17H12M4 9h16M8 2v4M16 2v4M3 16h7M7 13l3 3-3 3" /></Ic>
      <T x={874} y={1061} s={13.5}>09:51:48 UTC+8</T>
      <Box x={985} y={1048} w={1} h={26} bg="#e0e3eb" />
      <T x={1008} y={1061} s={13} a="center">ADJ</T>
    </div>
  );
}
